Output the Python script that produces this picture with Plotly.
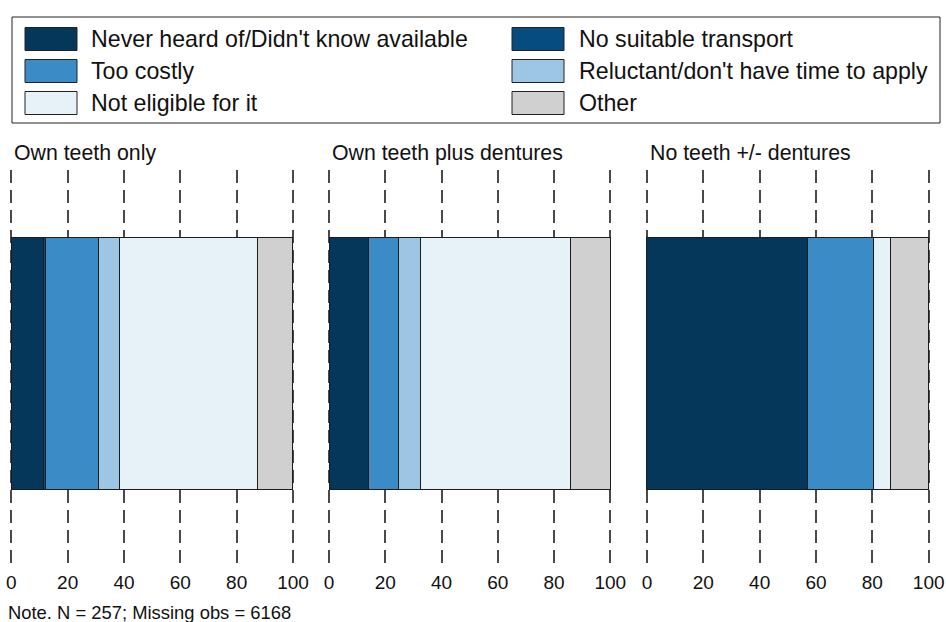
import plotly.graph_objects as go
from plotly.subplots import make_subplots

panels = ["Own teeth only", "Own teeth plus dentures", "No teeth +/- dentures"]
categories = ["Never heard of/Didn't know available", "No suitable transport",
              "Too costly", "Reluctant/don't have time to apply",
              "Not eligible for it", "Other"]
colors = ["#05375B", "#074C7E", "#3A8BC6", "#9CC6E4", "#E6F1F8", "#D0D0D0"]

never_heard = [11.5, 13.9, 57.0]
no_transport = [0.8, 0.0, 0.0]
too_costly = [18.8, 10.7, 23.5]
reluctant = [7.3, 7.9, 0.0]
not_eligible = [49.1, 53.5, 5.8]
other = [12.5, 14.0, 13.7]
series = [never_heard, no_transport, too_costly, reluctant, not_eligible, other]

tick_vals = [0, 20, 40, 60, 80, 100]
note = "Note. N = 257; Missing obs = 6168"

W, H = 946, 622
FONT = "Liberation Sans, Arial, sans-serif"

fig = make_subplots(rows=1, cols=3)

for p in range(3):
    for ci, cat in enumerate(categories):
        fig.add_trace(go.Bar(
            x=[series[ci][p]], y=["g"], orientation="h", name=cat,
            marker=dict(color=colors[ci], line=dict(color="#1c1c1c", width=1)),
            showlegend=False, hoverinfo="x+name"), row=1, col=p + 1)

# panel positions (pixel location of 0 and 100)
px_dom = [(11.3, 293), (329, 610.3), (647, 928.7)]
pad = 0.7
y_top, y_bot = 170, 566
ydom = [(H - y_bot) / H, (H - y_top) / H]

for p in range(3):
    xa = "xaxis" if p == 0 else f"xaxis{p+1}"
    ya = "yaxis" if p == 0 else f"yaxis{p+1}"
    x0, x1 = px_dom[p]
    ppu = (x1 - x0) / 100.0
    fig.layout[xa].update(
        domain=[(x0 - pad * ppu) / W, (x1 + pad * ppu) / W], range=[-pad, 100 + pad],
        tickvals=tick_vals, ticktext=[str(v) for v in tick_vals],
        showgrid=True, gridcolor="#4a4a4a", gridwidth=1.5, griddash="13px,7px",
        zeroline=False, showline=False, ticks="", automargin=False,
        tickfont=dict(family=FONT, size=19, color="#111"), ticklabelstandoff=3)
    fig.layout[ya].update(
        domain=ydom, range=[-0.5104, 0.4896], showticklabels=False, automargin=False,
        showgrid=False, zeroline=False, showline=False, ticks="")
    fig.add_annotation(text=panels[p], xref="paper", yref="paper",
                       x=(x0 + 1) / W, y=(H - 153) / H,
                       xanchor="left", yanchor="middle", showarrow=False,
                       font=dict(family=FONT, size=21.3, color="#111"))

# legend drawn manually
fig.add_shape(type="rect", xref="paper", yref="paper",
              x0=12 / W, x1=940 / W, y0=(H - 123) / H, y1=(H - 17) / H,
              line=dict(color="#222", width=1), fillcolor="white")
col_x = [(25, 89), (512, 577)]
row_y = [39, 71, 103]
for i, cat in enumerate(categories):
    c = i % 2
    r = i // 2
    sx, tx = col_x[c]
    cy = row_y[r]
    fig.add_shape(type="rect", xref="paper", yref="paper",
                  x0=sx / W, x1=(sx + 52) / W,
                  y0=(H - cy - 11.5) / H, y1=(H - cy + 11.5) / H,
                  line=dict(color="#222", width=1), fillcolor=colors[i])
    fig.add_annotation(text=cat, xref="paper", yref="paper",
                       x=tx / W, y=(H - cy) / H, xanchor="left", yanchor="middle",
                       showarrow=False,
                       font=dict(family=FONT, size=23.2, color="#111"))

fig.add_annotation(text=note, xref="paper", yref="paper", x=6 / W, y=(H - 612) / H,
                   xanchor="left", yanchor="middle", showarrow=False,
                   font=dict(family=FONT, size=18.4, color="#111"))

fig.update_layout(
    width=W, height=H, barmode="stack", bargap=0.364,
    margin=dict(l=0, r=0, t=0, b=0, autoexpand=False),
    paper_bgcolor="white", plot_bgcolor="white",
    font=dict(family=FONT, color="#111"))

fig.write_html("out.html", config={"displayModeBar": False},
               post_script="document.body.style.margin='0';document.body.style.overflow='hidden';")
